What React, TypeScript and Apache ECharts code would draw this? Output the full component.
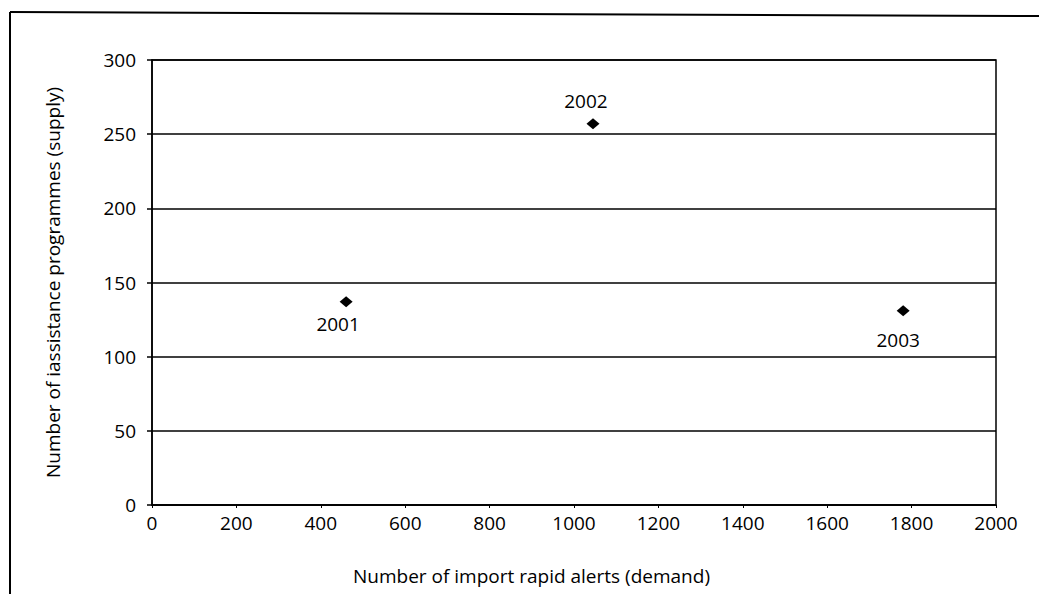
import React, { useEffect, useRef } from "react";
import * as echarts from "echarts";

const years = ["2001", "2002", "2003"];
const demand = [460, 1045, 1780];
const supply = [137, 257, 131];

const xTicks = [0, 2000, 200];
const yTicks = [0, 300, 50];

const xTitle = "Number of import rapid alerts (demand)";
const yTitle = "Number of iassistance programmes (supply)";

export default function App() {
  const ref = useRef<HTMLDivElement>(null);
  useEffect(() => {
    if (!ref.current) return;
    const chart = echarts.init(ref.current, null, { renderer: "svg" });
    const font = "'Open Sans', 'Noto Sans', sans-serif";
    const placement = [
      { position: "bottom", distance: 7, offset: [-8, 0] },
      { position: "top", distance: 8, offset: [-7, 0] },
      { position: "bottom", distance: 14, offset: [-5, 0] },
    ];
    chart.setOption({
      animation: false,
      backgroundColor: "#ffffff",
      textStyle: { fontFamily: font, color: "#000" },
      grid: {
        left: 152,
        right: 43,
        top: 60,
        bottom: 89,
        show: true,
        borderColor: "#000",
        borderWidth: 1.5,
        containLabel: false,
      },
      xAxis: {
        type: "value",
        min: xTicks[0],
        max: xTicks[1],
        interval: xTicks[2],
        axisLine: { show: true, lineStyle: { color: "#000", width: 1.5 } },
        axisTick: { show: true, inside: false, length: 3, lineStyle: { color: "#000" } },
        axisLabel: {
          color: "#000",
          fontSize: 19,
          margin: 8,
          fontFamily: font,
          formatter: (v: number) => String(v),
        },
        splitLine: { show: false },
      },
      yAxis: {
        type: "value",
        min: yTicks[0],
        max: yTicks[1],
        interval: yTicks[2],
        name: yTitle,
        nameLocation: "middle",
        nameGap: 90,
        nameTextStyle: { color: "#000", fontSize: 19, fontFamily: font },
        axisLine: { show: true, lineStyle: { color: "#000", width: 1.5 } },
        axisTick: { show: true, inside: false, length: 5, lineStyle: { color: "#000", width: 1.5 } },
        axisLabel: {
          color: "#000",
          fontSize: 19,
          margin: 16,
          fontFamily: font,
          formatter: (v: number) => String(v),
        },
        splitLine: { show: true, lineStyle: { color: "#000", width: 1.5 } },
      },
      graphic: [
        {
          type: "text",
          left: 353,
          top: 566,
          style: { text: xTitle, fill: "#000", font: `19px ${font}` },
        },
        {
          type: "line",
          shape: { x1: 10, y1: 12, x2: 1039, y2: 16 },
          style: { stroke: "#000", lineWidth: 2 },
        },
        {
          type: "line",
          shape: { x1: 10, y1: 12, x2: 10, y2: 594 },
          style: { stroke: "#000", lineWidth: 2 },
        },
      ],
      series: [
        {
          type: "scatter",
          symbol: "diamond",
          symbolSize: [13, 11],
          itemStyle: { color: "#000", opacity: 1 },
          data: years.map((y, i) => ({
            value: [demand[i], supply[i]],
            name: y,
            label: {
              show: true,
              formatter: y,
              color: "#000",
              fontSize: 19,
              fontFamily: font,
              position: placement[i].position,
              distance: placement[i].distance,
              offset: placement[i].offset,
            },
          })),
        },
      ],
    });
    return () => chart.dispose();
  }, []);
  return (
    <div
      ref={ref}
      style={{ position: "fixed", left: 0, top: 0, width: 1039, height: 594 }}
    />
  );
}
